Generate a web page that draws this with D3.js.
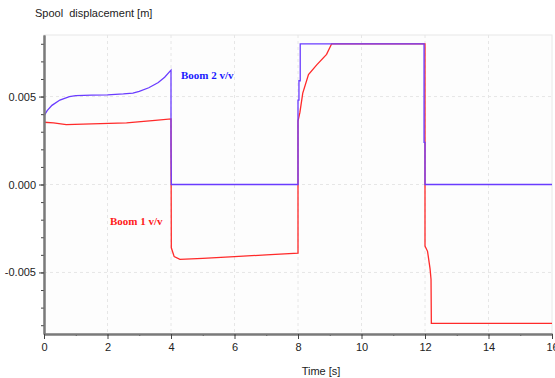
<!DOCTYPE html>
<meta charset="utf-8">
<script src="https://cdn.jsdelivr.net/npm/d3@7"></script>
<style>
  body { margin: 0; background: #fff; }
  text { font-family: "Liberation Sans", Arial, sans-serif; }
</style>
<body>
<script>

// Boom 2 v/v spool (blue)
var boom2T = [0, 0.1, 0.25, 0.5, 0.8, 1.0, 1.5, 2.0, 2.5, 2.8, 3.0, 3.3, 3.6, 3.8, 4.0, 4.0, 4.01, 8.0, 8.0, 8.03, 8.03, 8.07, 8.07, 11.97, 11.97, 12.0, 12.0, 16];
var boom2V = [0.0039, 0.0042, 0.0045, 0.0048, 0.0050, 0.00505, 0.00508, 0.0051, 0.00515, 0.0052, 0.0053, 0.0055, 0.0058, 0.0061, 0.0065, 0.0022, 0, 0, 0.0048, 0.0048, 0.0059, 0.0059, 0.008, 0.008, 0.0024, 0.0024, 0, 0];

// Boom 1 v/v spool (red)
var boom1T = [0, 0.3, 0.7, 1.5, 2.6, 3.5, 4.0, 4.01, 4.1, 4.28, 5, 6, 7, 8.0, 8.0, 8.06, 8.15, 8.33, 8.59, 8.9, 9.06, 12.0, 12.0, 12.08, 12.16, 12.19, 12.2, 16];
var boom1V = [0.00354, 0.0035, 0.0034, 0.00345, 0.0035, 0.00365, 0.00373, -0.0036, -0.0041, -0.00426, -0.0042, -0.0041, -0.004, -0.0039, 0.0036, 0.0041, 0.0052, 0.00625, 0.0068, 0.0074, 0.008, 0.008, -0.0035, -0.0038, -0.0048, -0.0054, -0.0079, -0.0079];

var xMajor = [0, 2, 4, 6, 8, 10, 12, 14, 16];
var yMajor = [-0.005, 0, 0.005];

var width = 555, height = 378;
var svg = d3.select("body").append("svg")
    .attr("width", width)
    .attr("height", height);

var x = d3.scaleLinear().domain([0, 16]).range([44, 552]);
var y = d3.scaleLinear().domain([-0.0085, 0.0085]).range([334, 35]);

// plot background + frame
svg.append("rect")
  .attr("x", x(0)).attr("y", y(0.0085))
  .attr("width", x(16) - x(0)).attr("height", y(-0.0085) - y(0.0085))
  .attr("fill", "#fdfdfd")
  .attr("stroke", "#e8e8e8");

// grid
svg.selectAll(".gx").data(xMajor.slice(1, -1)).enter().append("line")
  .attr("x1", d => x(d)).attr("x2", d => x(d))
  .attr("y1", y(0.0085)).attr("y2", y(-0.0085))
  .attr("stroke", "#e6e6e6").attr("stroke-dasharray", "3,3");
svg.selectAll(".gy").data(yMajor).enter().append("line")
  .attr("x1", x(0)).attr("x2", x(16))
  .attr("y1", d => y(d)).attr("y2", d => y(d))
  .attr("stroke", "#e6e6e6").attr("stroke-dasharray", "3,3");

// lines
var line = d3.line().x(d => x(d[0])).y(d => y(d[1]));
var red = boom1T.map((t, i) => [t, boom1V[i]]);
var blue = boom2T.map((t, i) => [t, boom2V[i]]);

svg.append("path").datum(red)
  .attr("d", line).attr("fill", "none")
  .attr("stroke", "#ff2a2a").attr("stroke-width", 1.3);
svg.append("path").datum(blue)
  .attr("d", line).attr("fill", "none")
  .attr("stroke", "#6a3cff").attr("stroke-width", 1.3);

// axes
var axisColor = "#7a7a7a";
function styleAxis(g) {
  g.select(".domain").attr("stroke", axisColor).attr("stroke-width", 2);
  g.selectAll(".tick line").attr("stroke", "#444");
  g.selectAll(".tick text").attr("fill", "#222").style("font-size", "11px")
    .style("font-family", "'Liberation Sans', Arial, sans-serif");
}

svg.append("g")
  .attr("transform", "translate(" + x(0) + ",0)")
  .call(d3.axisLeft(y).tickValues(d3.range(-8, 9).map(d => d / 1000)).tickSize(3).tickFormat("").tickSizeOuter(0))
  .call(styleAxis);
svg.append("g")
  .attr("transform", "translate(" + x(0) + ",0)")
  .call(d3.axisLeft(y).tickValues(yMajor).tickSize(5).tickPadding(3).tickSizeOuter(0)
    .tickFormat(d => d.toFixed(3)))
  .call(styleAxis);

svg.append("g")
  .attr("transform", "translate(0," + y(-0.0085) + ")")
  .call(d3.axisBottom(x).tickValues(d3.range(0, 17)).tickSize(2).tickFormat("").tickSizeOuter(0))
  .call(styleAxis);
svg.append("g")
  .attr("transform", "translate(0," + y(-0.0085) + ")")
  .call(d3.axisBottom(x).tickValues(xMajor).tickSize(5).tickPadding(4).tickSizeOuter(0))
  .call(styleAxis);

// titles
svg.append("text")
  .attr("x", 35).attr("y", 17)
  .style("font-size", "11px").attr("fill", "#222")
  .attr("xml:space", "preserve")
  .text("Spool  displacement [m]");
svg.append("text")
  .attr("x", 321).attr("y", 375)
  .attr("text-anchor", "middle")
  .style("font-size", "11px").attr("fill", "#222")
  .text("Time [s]");

// series labels
svg.append("text")
  .attr("x", 181).attr("y", 79)
  .style("font-family", "'Liberation Serif', 'Times New Roman', serif")
  .style("font-size", "11px").style("font-weight", "bold")
  .attr("fill", "#1a1aff")
  .text("Boom 2 v/v");
svg.append("text")
  .attr("x", 110).attr("y", 225)
  .style("font-family", "'Liberation Serif', 'Times New Roman', serif")
  .style("font-size", "11px").style("font-weight", "bold")
  .attr("fill", "#ff1a1a")
  .text("Boom 1 v/v");

</script>
</body>
</html>
